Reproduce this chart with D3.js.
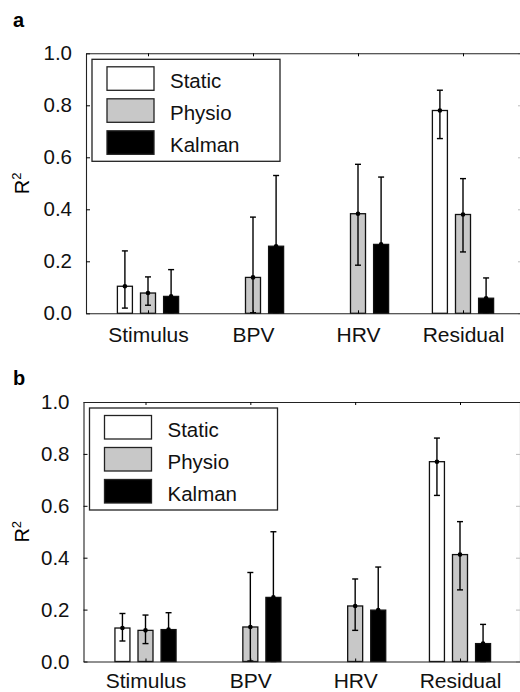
<!DOCTYPE html>
<html>
<head>
<meta charset="utf-8">
<script src="https://cdn.jsdelivr.net/npm/d3@7"></script>
<style>
  body { margin: 0; background: #fff; }
  svg { display: block; font-family: "Liberation Sans", Arial, sans-serif; }
</style>
</head>
<body>
<div id="chart"></div>
<script>
// categories / series
const categories = ["Stimulus", "BPV", "HRV", "Residual"];
const seriesNames = ["Static", "Physio", "Kalman"];
const yTicks = [0, 0.2, 0.4, 0.6, 0.8, 1.0];

// panel a - means and error bar ends (0 = no bar)
const staticA = [0.104, 0, 0, 0.78];
const staticALo = [0.02, 0, 0, 0.672];
const staticAHi = [0.24, 0, 0, 0.858];
const physioA = [0.078, 0.138, 0.383, 0.38];
const physioALo = [0.031, 0.002, 0.185, 0.236];
const physioAHi = [0.14, 0.37, 0.573, 0.518];
const kalmanA = [0.065, 0.258, 0.265, 0.058];
const kalmanALo = [0.0, 0.0, 0.01, 0.0];
const kalmanAHi = [0.168, 0.53, 0.524, 0.136];

// panel b
const staticB = [0.129, 0, 0, 0.77];
const staticBLo = [0.079, 0, 0, 0.64];
const staticBHi = [0.185, 0, 0, 0.861];
const physioB = [0.12, 0.133, 0.214, 0.412];
const physioBLo = [0.069, 0.002, 0.12, 0.276];
const physioBHi = [0.179, 0.343, 0.318, 0.539];
const kalmanB = [0.123, 0.247, 0.198, 0.069];
const kalmanBLo = [0.06, 0.0, 0.03, 0.0];
const kalmanBHi = [0.188, 0.5, 0.364, 0.143];

const fills = ["#ffffff", "#c8c8c8", "#000000"];

const panels = [
    {label: "a", left: 86, right: 522, top: 53.3, bottom: 313.3, c1: 148, c4: 463, labelY: 27, xPad: 14,
        series: [[staticA, staticALo, staticAHi], [physioA, physioALo, physioAHi], [kalmanA, kalmanALo, kalmanAHi]]},
    {label: "b", left: 83.5, right: 520, top: 402, bottom: 661.5, c1: 145.5, c4: 460, labelY: 385, xPad: 12,
        series: [[staticB, staticBLo, staticBHi], [physioB, physioBLo, physioBHi], [kalmanB, kalmanBLo, kalmanBHi]]}
];

const svg = d3.select("#chart").append("svg")
    .attr("width", 520)
    .attr("height", 692);

const barOffset = [-0.22, 0, 0.22],
    barWidth = 0.143;

panels.forEach(function (p) {
    const x = d3.scaleLinear().domain([1, 4]).range([p.c1, p.c4]);
    const y = d3.scaleLinear().domain([0, 1]).range([p.bottom, p.top]);
    const g = svg.append("g");

    // panel letter
    g.append("text")
        .attr("x", 13)
        .attr("y", p.labelY)
        .style("font-size", "20px")
        .style("font-weight", "bold")
        .text(p.label);

    // y label R^2
    const yl = g.append("text")
        .attr("transform", "translate(29," + ((p.top + p.bottom) / 2) + ") rotate(-90)")
        .attr("text-anchor", "middle")
        .style("font-size", "20px");
    yl.append("tspan").text("R");
    yl.append("tspan").attr("dy", -8).style("font-size", "13px").text("2");

    // bars
    p.series.forEach(function (s, si) {
        const vals = s[0], lo = s[1], hi = s[2];
        vals.forEach(function (v, ci) {
            if (!v) return;
            const cx = ci + 1 + barOffset[si];
            g.append("rect")
                .attr("x", x(cx - barWidth / 2))
                .attr("y", y(v))
                .attr("width", x(cx + barWidth / 2) - x(cx - barWidth / 2))
                .attr("height", y(0) - y(v))
                .attr("fill", fills[si])
                .attr("stroke", "#111")
                .attr("stroke-width", 1.3);
        });
    });

    // error bars on top
    p.series.forEach(function (s, si) {
        const vals = s[0], lo = s[1], hi = s[2];
        vals.forEach(function (v, ci) {
            if (!v) return;
            const px = x(ci + 1 + barOffset[si]);
            const eb = g.append("g").attr("stroke", "#000").attr("stroke-width", 1.4);
            eb.append("line").attr("x1", px).attr("x2", px).attr("y1", y(lo[ci])).attr("y2", y(hi[ci]));
            eb.append("line").attr("x1", px - 3).attr("x2", px + 3).attr("y1", y(hi[ci])).attr("y2", y(hi[ci]));
            eb.append("line").attr("x1", px - 3).attr("x2", px + 3).attr("y1", y(lo[ci])).attr("y2", y(lo[ci]));
            g.append("circle").attr("cx", px).attr("cy", y(v)).attr("r", 2.3).attr("fill", "#000");
        });
    });

    // axes (box)
    const xFull = d3.scaleLinear().domain([x.invert(p.left), x.invert(p.right)]).range([p.left, p.right]);

    const left = g.append("g")
        .attr("transform", "translate(" + p.left + ",0)")
        .call(d3.axisLeft(y).tickValues(yTicks).tickFormat(d3.format(".1f")).tickSize(-4).tickSizeOuter(0).tickPadding(14));
    left.selectAll("text").style("font-size", "20.5px").attr("fill", "#111");

    g.append("g")
        .attr("transform", "translate(" + p.right + ",0)")
        .call(d3.axisRight(y).tickValues(yTicks).tickFormat("").tickSize(-4).tickSizeOuter(0))
        .selectAll("line").attr("stroke", "#bbb");

    g.append("g")
        .attr("transform", "translate(0," + p.top + ")")
        .call(d3.axisTop(xFull).tickValues([1, 2, 3, 4]).tickFormat("").tickSize(-3).tickSizeOuter(0));

    const bottom = g.append("g")
        .attr("transform", "translate(0," + p.bottom + ")")
        .call(d3.axisBottom(xFull).tickValues([1, 2, 3, 4]).tickFormat(function (d) { return categories[d - 1]; })
            .tickSize(-3).tickSizeOuter(0).tickPadding(p.xPad));
    bottom.selectAll("text").style("font-size", "21px").attr("fill", "#111");

    svg.selectAll(".domain").attr("stroke", "#222").attr("stroke-width", 1.1);

    // legend
    const lx = p.left + 6, ly = p.top + 6;
    const lg = g.append("g").attr("transform", "translate(" + lx + "," + ly + ")");
    lg.append("rect")
        .attr("width", 188)
        .attr("height", 102)
        .attr("fill", "#fff")
        .attr("stroke", "#222")
        .attr("stroke-width", 1.3);
    seriesNames.forEach(function (name, i) {
        lg.append("rect")
            .attr("x", 15)
            .attr("y", 7.5 + i * 32)
            .attr("width", 47)
            .attr("height", 23.5)
            .attr("fill", fills[i])
            .attr("stroke", "#222")
            .attr("stroke-width", 1.3);
        lg.append("text")
            .attr("x", 78)
            .attr("y", 29 + i * 32)
            .style("font-size", "20.5px")
            .attr("fill", "#111")
            .text(name);
    });
});
</script>
</body>
</html>
